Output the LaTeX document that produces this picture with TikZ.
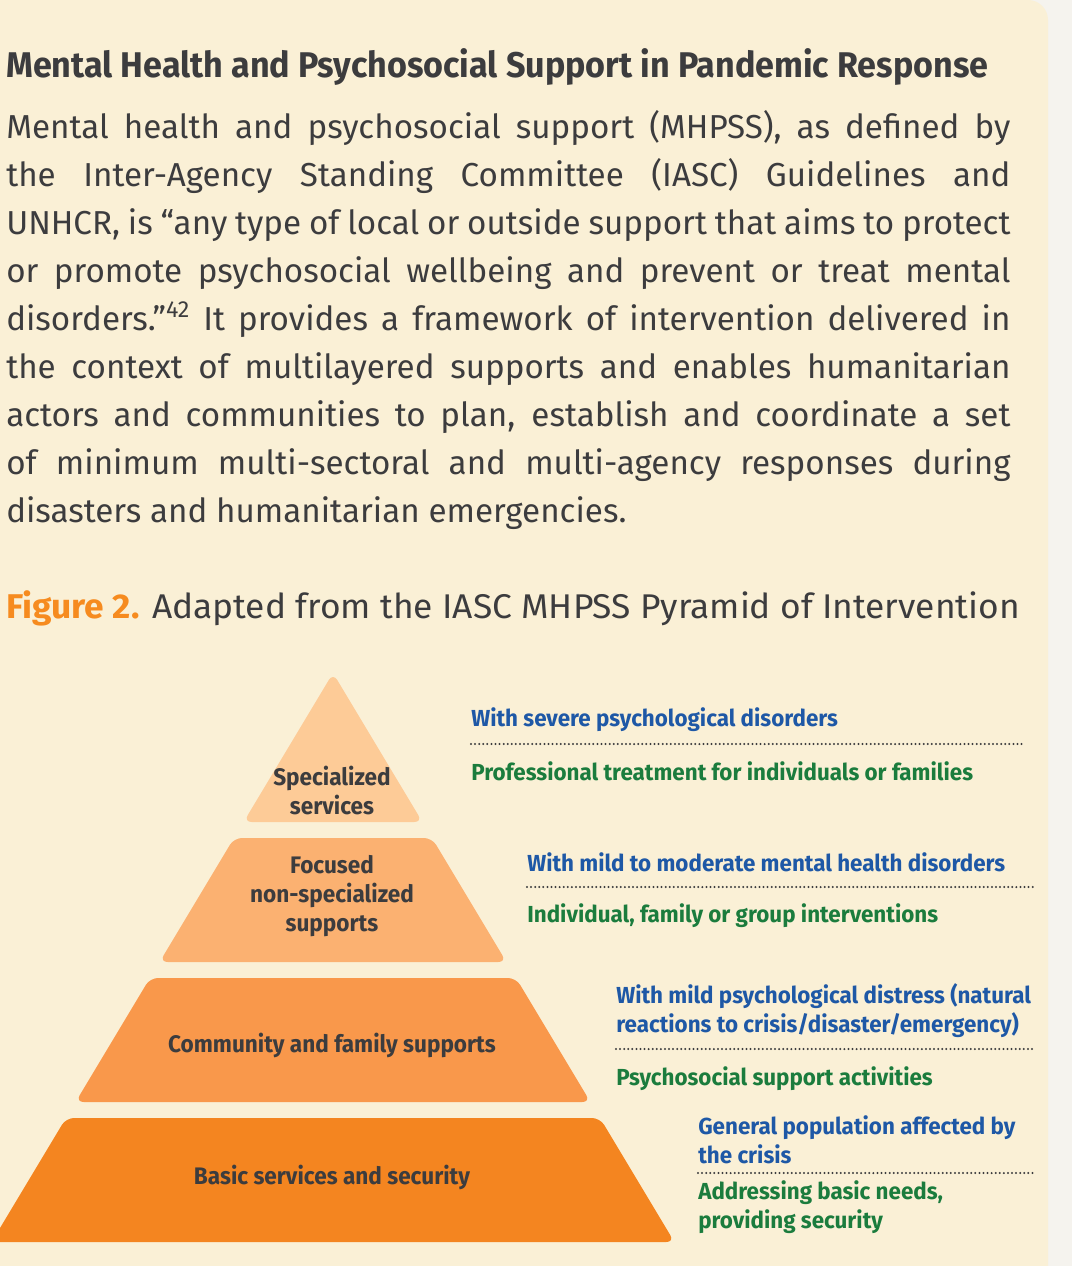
\documentclass[tikz,border=0pt]{standalone}
\usepackage{fontspec}
\setmainfont{Fira Sans}
\setsansfont{Fira Sans}
\newfontfamily\headfont[FakeStretch=0.955]{Fira Sans}
\newfontfamily\bodyfont{Fira Sans}
\newfontfamily\capfont[FakeStretch=1.03]{Fira Sans}
\newfontfamily\labfont[FakeStretch=0.965]{Fira Sans}
\newfontfamily\layfont[FakeStretch=0.945]{Fira Sans}
\usetikzlibrary{arrows.meta}
\definecolor{paper}{HTML}{FAF0D6}
\definecolor{side}{HTML}{F5F3EE}
\definecolor{ink}{HTML}{3C3C3E}
\definecolor{figorange}{HTML}{F68B1F}
\definecolor{labblue}{HTML}{1E58A6}
\definecolor{labgreen}{HTML}{1B7C3D}
\definecolor{lay1}{HTML}{FDCB97}
\definecolor{lay2}{HTML}{FBB171}
\definecolor{lay3}{HTML}{F9984B}
\definecolor{lay4}{HTML}{F48520}
\tikzset{
  layertext/.style={ink,anchor=base,inner sep=0pt,align=center,font=\layfont\bfseries\fontsize{17}{20.6}\selectfont},
  need/.style={labblue,anchor=base west,inner sep=0pt,align=left,font=\labfont\bfseries\fontsize{16.5}{20.6}\selectfont},
  help/.style={labgreen,anchor=base west,inner sep=0pt,align=left,font=\labfont\bfseries\fontsize{16.5}{20.6}\selectfont},
  sepline/.style={ink,line width=1.6pt,dash pattern=on 0pt off 2.9pt,line cap=round}
}

\begin{document}
\begin{tikzpicture}[x=0.025cm,y=-0.025cm,>=Latex,font=\sffamily]
\def\ax{333}\def\ay{673}\def\sl{0.6}
\useasboundingbox (0,0) rectangle (1072,1266);
\clip (0,0) rectangle (1072,1266);
\fill[side] (0,0) rectangle (1072,1266);
\fill[paper,rounded corners=5mm] (-40,0) rectangle (1048,1320);

\node[ink,anchor=base west,inner sep=0pt,font=\headfont\bfseries\fontsize{25.4}{30}\selectfont] (title) at (6,78)
  {Mental Health and Psychosocial Support in Pandemic Response};
\node[ink,anchor=base west,inner sep=0pt,align=left,font=\bodyfont\fontsize{23.6}{34.1}\selectfont] (body) at (6,522)
  {\makebox[25.1cm][s]{Mental health and psychosocial support (MHPSS), as defined by}\\
   \makebox[25.1cm][s]{the Inter-Agency Standing Committee (IASC) Guidelines and}\\
   \makebox[25.1cm][s]{UNHCR, is “any type of local or outside support that aims to protect}\\
   \makebox[25.1cm][s]{or promote psychosocial wellbeing and prevent or treat mental}\\
   \makebox[25.1cm][s]{disorders.”\textsuperscript{42} It provides a framework of intervention delivered in}\\
   \makebox[25.1cm][s]{the context of multilayered supports and enables humanitarian}\\
   \makebox[25.1cm][s]{actors and communities to plan, establish and coordinate a set}\\
   \makebox[25.1cm][s]{of minimum multi-sectoral and multi-agency responses during}\\
   disasters and humanitarian emergencies.};
\node[ink,anchor=base west,inner sep=0pt,font=\capfont\fontsize{24.4}{28}\selectfont] (caption) at (6,618)
  {\textcolor{figorange}{\bfseries Figure 2.} Adapted from the IASC MHPSS Pyramid of Intervention};

\fill[lay1,rounded corners=2mm] (\ax,\ay) -- ({\ax+\sl*(822-\ay)},822) -- ({\ax-\sl*(822-\ay)},822) -- cycle;
\foreach \ya/\yb/\c in {838/962/lay2,978/1102/lay3,1118/1242/lay4}
  \fill[\c,rounded corners=2mm] ({\ax-\sl*(\ya-\ay)},\ya) -- ({\ax+\sl*(\ya-\ay)},\ya)
    -- ({\ax+\sl*(\yb-\ay)},\yb) -- ({\ax-\sl*(\yb-\ay)},\yb) -- cycle;

\node[layertext] (spec) at (332,814) {Specialized\\services};
\node[layertext] (focus) at (332,931) {Focused\\non-specialized\\supports};
\node[layertext] (comm) at (332,1052) {Community and family supports};
\node[layertext] (basic) at (332,1184) {Basic services and security};

\node[need] (n1) at (471,726) {With severe psychological disorders};
\draw[sepline] (471,744) -- (1024,744);
\node[help] (h1) at (471,780) {Professional treatment for individuals or families};

\node[need] (n2) at (527,871) {With mild to moderate mental health disorders};
\draw[sepline] (527,887) -- (1035,887);
\node[help] (h2) at (527,922) {Individual, family or group interventions};

\node[need] (n3) at (616,1032) {With mild psychological distress (natural\\reactions to crisis/disaster/emergency)};
\draw[sepline] (616,1049) -- (1035,1049);
\node[help] (h3) at (616,1085) {Psychosocial support activities};

\node[need] (n4) at (698,1163) {General population affected by\\the crisis};
\draw[sepline] (698,1173) -- (1035,1173);
\node[help] (h4) at (698,1228) {Addressing basic needs,\\providing security};
\end{tikzpicture}
\end{document}
